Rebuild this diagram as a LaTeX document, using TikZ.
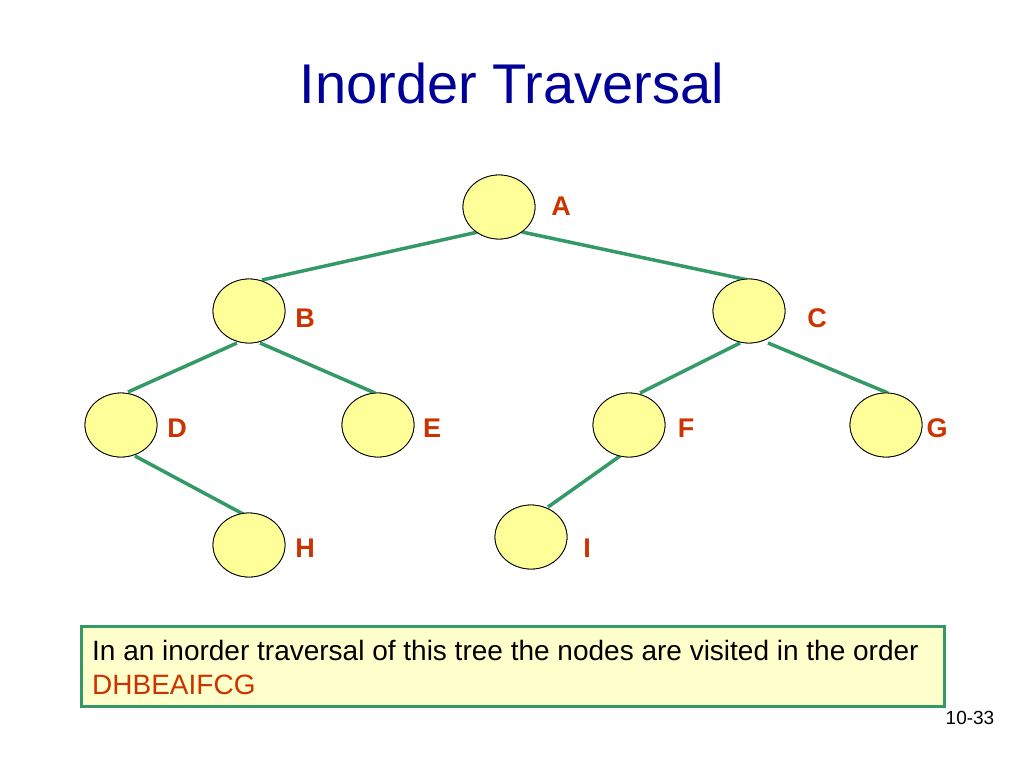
\documentclass[tikz,border=0pt]{standalone}
\usepackage{fontspec}
\setmainfont{Liberation Sans}
\usetikzlibrary{shapes.geometric,calc}
\definecolor{edgegreen}{HTML}{339966}
\definecolor{lab}{HTML}{CC3300}
\definecolor{ttl}{HTML}{000099}
\begin{document}
\begin{tikzpicture}[x=1pt,y=-1pt,
  tn/.style={ellipse,draw=black,line width=0.8pt,fill={rgb,255:red,255;green,255;blue,153},minimum width=72pt,minimum height=64pt,inner sep=0pt},
  lb/.style={text=lab,font=\bfseries\fontsize{27}{31}\selectfont},
  ed/.style={draw=edgegreen,line width=3.5pt}]
\useasboundingbox (0,0) rectangle (1024,768);
\node[text=ttl,font=\fontsize{56}{62}\selectfont] (title) at (512,83) {Inorder Traversal};
\node[tn] (A) at (499,207) {};
\node[tn] (B) at (249,311) {};
\node[tn] (C) at (749,311) {};
\node[tn] (D) at (121,425) {};
\node[tn] (E) at (378,425) {};
\node[tn] (F) at (629,425) {};
\node[tn] (G) at (886,425) {};
\node[tn] (H) at (249,545) {};
\node[tn] (I) at (531,537) {};
\draw[ed] ($(A)+(-21,25)$) -- ($(B)+(13,-31)$);
\draw[ed] ($(A)+(23,25)$) -- ($(C)+(-1,-31)$);
\draw[ed] ($(B)+(-12,32)$) -- ($(D)+(7,-33)$);
\draw[ed] ($(B)+(11,32)$) -- ($(E)+(-3,-32)$);
\draw[ed] ($(C)+(-9,32)$) -- ($(F)+(11,-32)$);
\draw[ed] ($(C)+(19,32)$) -- ($(G)+(2,-32)$);
\draw[ed] ($(D)+(14,31)$) -- ($(H)+(-4,-30)$);
\draw[ed] ($(F)+(-9,31)$) -- ($(I)+(17,-30)$);
\foreach \n in {A,B,C,D,E,F,G,H,I} {\node[tn] at (\n) {};}
\node[lb] (lA) at (561,206) {A};
\node[lb] (lB) at (305,318) {B};
\node[lb] (lC) at (817,318) {C};
\node[lb] (lD) at (177,428) {D};
\node[lb] (lE) at (432,428) {E};
\node[lb] (lF) at (686,428) {F};
\node[lb] (lG) at (937,428) {G};
\node[lb] (lH) at (305,548) {H};
\node[lb] (lI) at (587,548) {I};
\draw[draw=edgegreen,line width=3pt,fill={rgb,255:red,255;green,255;blue,204}] (81,626) rectangle (944,706);
\node[anchor=west,font=\fontsize{28}{32}\selectfont,inner sep=0pt] (t1) at (92,650) {In an inorder traversal of this tree the nodes are visited in the order};
\node[anchor=west,font=\fontsize{28}{32}\selectfont,inner sep=0pt,text=lab] (t2) at (92,685) {DHBEAIFCG};
\node[font=\fontsize{19}{22}\selectfont] (pg) at (970,718) {10-33};
\end{tikzpicture}
\end{document}
